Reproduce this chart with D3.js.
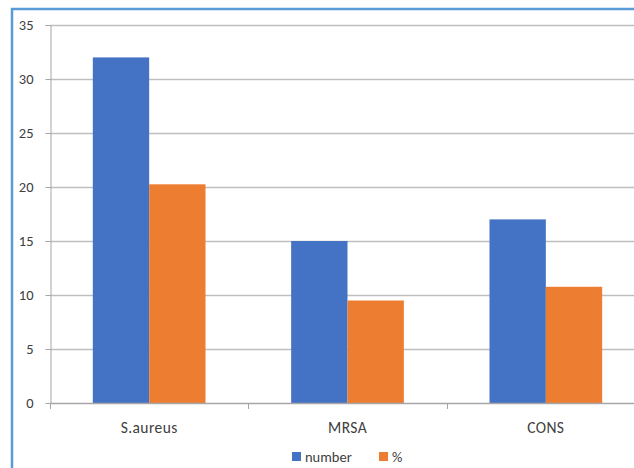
<!DOCTYPE html>
<html>
<head>
<meta charset="utf-8">
<script src="https://cdn.jsdelivr.net/npm/d3@7/dist/d3.min.js"></script>
<style>
  html, body { margin: 0; padding: 0; background: #fff; }
  svg { display: block; }
  text { font-family: Carlito, Lato, "Open Sans", sans-serif; fill: #404040; }
</style>
</head>
<body>
<svg id="chart" width="634" height="468"></svg>
<script>
// Organisms and counts with their share of all isolates
const categories = ["S.aureus", "MRSA", "CONS"];
const seriesNames = ["number", "%"];
const numberValues = [32, 15, 17];
const percentValues = [20.25, 9.49, 10.76];
const yTicks = [0, 5, 10, 15, 20, 25, 30, 35];
const colors = ["#4472C4", "#ED7D31"];

const svg = d3.select("#chart");
const W = 634, H = 468;
const margin = { left: 50, top: 25, right: -11, bottom: 65 };
const fontStack = "Carlito, Lato, 'Open Sans', sans-serif";

// chart frame
svg.append("rect")
  .attr("x", 12).attr("y", 9)
  .attr("width", W + 10).attr("height", H + 10)
  .attr("fill", "none").attr("stroke", "#5B9BD5").attr("stroke-width", 2.5);

const x = d3.scaleBand()
  .domain(categories)
  .range([margin.left, W - margin.right])
  .paddingInner(0).paddingOuter(0);

const xInner = d3.scaleBand()
  .domain(seriesNames)
  .range([0, x.bandwidth()])
  .paddingInner(0)
  .paddingOuter(0.76);

const y = d3.scaleLinear().domain([0, 35]).range([H - margin.bottom, margin.top]);

// gridlines
svg.append("g")
  .selectAll("line")
  .data(yTicks.filter(d => d > 0))
  .join("line")
  .attr("x1", margin.left).attr("x2", W + 20)
  .attr("y1", d => Math.round(y(d)) + 0.5).attr("y2", d => Math.round(y(d)) + 0.5)
  .attr("stroke", "#BFBFBF").attr("stroke-width", 1.3);

// y axis
const yAxis = svg.append("g")
  .attr("transform", `translate(${margin.left + 0.5},0)`)
  .call(d3.axisLeft(y).tickValues(yTicks).tickSize(5).tickPadding(12).tickSizeOuter(0));
yAxis.select(".domain").attr("stroke", "#A6A6A6");
yAxis.selectAll(".tick line").attr("stroke", "#A6A6A6");
yAxis.selectAll("text").attr("font-size", 14.5).attr("fill", "#404040")
  .attr("font-family", fontStack);

// bars
const rows = categories.map((c, i) => ({ cat: c, vals: [numberValues[i], percentValues[i]] }));
const groups = svg.append("g").selectAll("g")
  .data(rows).join("g")
  .attr("transform", d => `translate(${x(d.cat)},0)`);
groups.selectAll("rect")
  .data(d => d.vals.map((v, k) => ({ k, v })))
  .join("rect")
  .attr("x", d => xInner(seriesNames[d.k]))
  .attr("width", xInner.bandwidth())
  .attr("y", d => y(d.v))
  .attr("height", d => y(0) - y(d.v))
  .attr("fill", d => colors[d.k]);

// x axis
const xAxis = svg.append("g")
  .attr("transform", `translate(0,${Math.round(y(0)) + 0.5})`)
  .call(d3.axisBottom(x).tickSize(0).tickSizeOuter(0));
xAxis.select(".domain").attr("stroke", "#A6A6A6").attr("stroke-width", 1.3)
  .attr("d", `M${margin.left},0H${W + 20}`);
xAxis.selectAll("text")
  .attr("y", 29).attr("dy", 0)
  .attr("font-size", 15.5).attr("letter-spacing", 0.4).attr("fill", "#404040")
  .attr("font-family", fontStack);
// category separators
svg.append("g").selectAll("line")
  .data(categories.map(c => x(c)).concat([x(categories[2]) + x.bandwidth()]))
  .join("line")
  .attr("x1", d => Math.round(d) + 0.5).attr("x2", d => Math.round(d) + 0.5)
  .attr("y1", Math.round(y(0))).attr("y2", Math.round(y(0)) + 6)
  .attr("stroke", "#A6A6A6");

// legend
const legend = svg.append("g").attr("transform", "translate(292,452)");
const legX = [0, 87];
seriesNames.forEach((s, k) => {
  const g = legend.append("g").attr("transform", `translate(${legX[k]},0)`);
  g.append("rect").attr("width", 9).attr("height", 9).attr("fill", colors[k]);
  g.append("text").attr("x", 13).attr("y", 9.5).attr("font-size", 14.5).text(s);
});
</script>
</body>
</html>
